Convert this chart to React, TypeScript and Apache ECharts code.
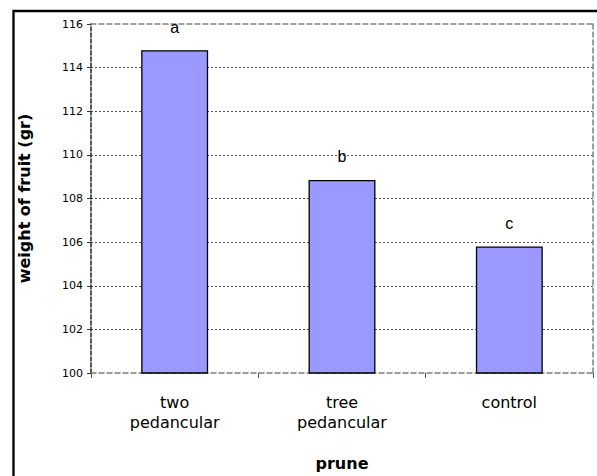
import React, { useEffect, useRef } from "react";
import * as echarts from "echarts";

const categories: string[] = ["two\npedancular", "tree\npedancular", "control"];
const weights: number[] = [114.8, 108.85, 105.8];
const letters: string[] = ["a", "b", "c"];
const yTicks = { min: 100, max: 116, interval: 2 };
const xAxisName = "prune";
const yAxisName = "weight of fruit (gr)";

export default function App() {
  const ref = useRef<HTMLDivElement>(null);
  useEffect(() => {
    if (!ref.current) return;
    const chart = echarts.init(ref.current, undefined, { renderer: "svg" });
    const borderGray = "#808080";
    chart.setOption({
      animation: false,
      backgroundColor: "#ffffff",
      grid: { left: 91, top: 24, right: 4, bottom: 103, containLabel: false },
      graphic: [
        {
          type: "rect",
          z: 0,
          silent: true,
          shape: { x: 13.5, y: 11, width: 620, height: 520 },
          style: { fill: "none", stroke: "#000", lineWidth: 2.3 },
        },
      ],
      xAxis: [
        {
          type: "category",
          data: categories,
          position: "bottom",
          axisLine: { show: true, lineStyle: { color: borderGray, width: 1.5, type: [5, 3] } },
          axisTick: { show: true, length: 5, lineStyle: { color: "#555", width: 1 } },
          axisLabel: {
            color: "#000",
            fontFamily: "DejaVu Sans",
            fontSize: 16,
            lineHeight: 20,
            margin: 19,
          },
          name: xAxisName,
          nameLocation: "middle",
          nameGap: 82,
          nameTextStyle: { color: "#000", fontFamily: "DejaVu Sans", fontWeight: "bold", fontSize: 16 },
        },
        {
          type: "category",
          data: categories,
          position: "top",
          axisLine: { show: true, lineStyle: { color: borderGray, width: 1.5, type: [5, 3] } },
          axisTick: { show: false },
          axisLabel: { show: false },
        },
      ],
      yAxis: [
        {
          type: "value",
          min: yTicks.min,
          max: yTicks.max,
          interval: yTicks.interval,
          position: "left",
          axisLine: { show: true, lineStyle: { color: "#222", width: 1.5, type: [4, 2] } },
          axisTick: { show: true, length: 4, lineStyle: { color: "#333", width: 1 } },
          axisLabel: { color: "#000", fontFamily: "DejaVu Sans", fontSize: 11, margin: 8 },
          splitLine: {
            show: true,
            showMinLine: false,
            showMaxLine: false,
            lineStyle: { color: "#555", width: 1, type: [2, 2] },
          },
          name: yAxisName,
          nameLocation: "middle",
          nameGap: 59,
          nameRotate: 90,
          nameTextStyle: { color: "#000", fontFamily: "DejaVu Sans", fontWeight: "bold", fontSize: 16 },
        },
        {
          type: "value",
          min: yTicks.min,
          max: yTicks.max,
          interval: yTicks.interval,
          position: "right",
          axisLine: { show: true, lineStyle: { color: borderGray, width: 1.5, type: [5, 3] } },
          axisTick: { show: false },
          axisLabel: { show: false },
          splitLine: { show: false },
        },
      ],
      series: [
        {
          type: "bar",
          xAxisIndex: 0,
          yAxisIndex: 0,
          data: weights,
          barWidth: "40%",
          itemStyle: { color: "#9999ff", borderColor: "#000", borderWidth: 1.3 },
          label: {
            show: true,
            position: "top",
            distance: 15,
            color: "#000",
            fontFamily: "Liberation Sans",
            fontSize: 16,
            formatter: (p: any) => letters[p.dataIndex],
          },
        },
      ],
    });
    return () => chart.dispose();
  }, []);
  return (
    <div
      ref={ref}
      style={{ position: "fixed", left: 0, top: 0, width: 597, height: 476 }}
    />
  );
}
